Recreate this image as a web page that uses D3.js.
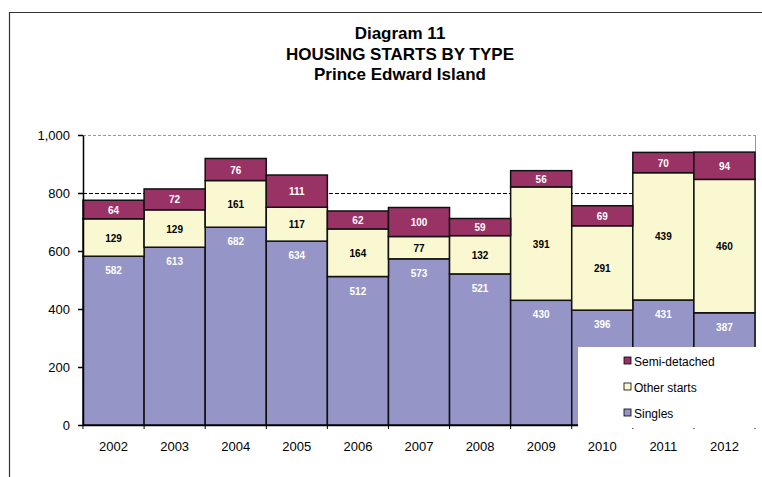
<!DOCTYPE html>
<html>
<head>
<meta charset="utf-8">
<script src="https://cdn.jsdelivr.net/npm/d3@7"></script>
<style>
  body { margin: 0; background: #fff; }
  svg { display: block; font-family: "Liberation Sans", Arial, sans-serif; }
</style>
</head>
<body>
<div id="chart"></div>
<script>
const years = ["2002", "2003", "2004", "2005", "2006", "2007", "2008", "2009", "2010", "2011", "2012"];
const singles = [582, 613, 682, 634, 512, 573, 521, 430, 396, 431, 387];
const otherStarts = [129, 129, 161, 117, 164, 77, 132, 391, 291, 439, 460];
const semiDetached = [64, 72, 76, 111, 62, 100, 59, 56, 69, 70, 94];
const yTicks = [0, 200, 400, 600, 800, 1000];

const width = 762;
const height = 477;
const margin = { top: 135, right: 7, bottom: 52, left: 83 };

const series = [
  { key: "singles", name: "Singles", values: singles, color: "#9595C7", text: "#fff" },
  { key: "other", name: "Other starts", values: otherStarts, color: "#FAF8D0", text: "#000" },
  { key: "semi", name: "Semi-detached", values: semiDetached, color: "#993366", text: "#fff" }
];

// table for d3.stack
const table = years.map((y, i) => {
  const row = { year: y };
  series.forEach(s => row[s.key] = s.values[i]);
  return row;
});
const stacked = d3.stack().keys(series.map(s => s.key))(table);

const svg = d3.select("#chart")
  .append("svg")
  .attr("width", width)
  .attr("height", height);

// outer frame
svg.append("path")
  .attr("d", `M9.5,${height} V12.5 H${width}`)
  .attr("fill", "none")
  .attr("stroke", "#333")
  .attr("stroke-width", 1.2);

// title
const title = ["Diagram 11", "HOUSING STARTS BY TYPE", "Prince Edward Island"];
svg.append("g")
  .selectAll("text")
  .data(title)
  .enter()
  .append("text")
  .attr("x", 400)
  .attr("y", (d, i) => 39 + i * 20.5)
  .attr("text-anchor", "middle")
  .attr("font-size", "17px")
  .attr("font-weight", "bold")
  .text(d => d);

const x = d3.scaleBand()
  .domain(years)
  .range([margin.left, width - margin.right])
  .padding(0);

const y = d3.scaleLinear()
  .domain([0, 1000])
  .range([height - margin.bottom, margin.top]);

// top gridline (grey dashed) and right border
svg.append("line")
  .attr("x1", margin.left).attr("x2", width - margin.right)
  .attr("y1", y(1000) + 0.5).attr("y2", y(1000) + 0.5)
  .attr("stroke", "#999").attr("stroke-dasharray", "3,2");
svg.append("line")
  .attr("x1", width - margin.right + 0.5).attr("x2", width - margin.right + 0.5)
  .attr("y1", y(1000)).attr("y2", y(0))
  .attr("stroke", "#999");

// 800 dashed line
svg.append("line")
  .attr("x1", margin.left).attr("x2", width - margin.right)
  .attr("y1", y(800) + 0.5).attr("y2", y(800) + 0.5)
  .attr("stroke", "#000").attr("stroke-dasharray", "4,2");

// bars
const layers = svg.append("g")
  .selectAll("g")
  .data(stacked)
  .enter()
  .append("g")
  .attr("fill", (d, i) => series[i].color);

layers.selectAll("rect")
  .data(d => d)
  .enter()
  .append("rect")
  .attr("x", d => x(d.data.year))
  .attr("y", d => y(d[1]))
  .attr("width", x.bandwidth())
  .attr("height", d => y(d[0]) - y(d[1]))
  .attr("stroke", "#111")
  .attr("stroke-width", 1.5);

// value labels
stacked.forEach((layer, i) => {
  const s = series[i];
  svg.append("g")
    .selectAll("text")
    .data(layer)
    .enter()
    .append("text")
    .attr("x", d => x(d.data.year) + x.bandwidth() / 2)
    .attr("y", d => s.key === "singles" ? y(d[1]) + 18 : (y(d[0]) + y(d[1])) / 2 + 4)
    .attr("text-anchor", "middle")
    .attr("font-size", "10px")
    .attr("font-weight", "bold")
    .attr("fill", s.text)
    .text(d => d[1] - d[0]);
});

// y axis
const yAxis = svg.append("g")
  .attr("transform", `translate(${margin.left},0)`)
  .call(d3.axisLeft(y).tickValues(yTicks).tickFormat(d3.format(",")).tickSize(5).tickSizeOuter(0).tickPadding(8));
yAxis.selectAll("text").attr("font-size", "13px").attr("fill", "#000").attr("font-family", "Liberation Sans, Arial, sans-serif");
yAxis.selectAll("line, path").attr("stroke", "#000").attr("stroke-width", 1.5);

// x axis
const xAxis = svg.append("g")
  .attr("transform", `translate(0,${y(0)})`)
  .call(d3.axisBottom(x).tickSize(0).tickSizeOuter(0).tickPadding(17));
xAxis.selectAll("text").attr("font-size", "13px").attr("fill", "#000").attr("font-family", "Liberation Sans, Arial, sans-serif");
xAxis.select("path").attr("stroke", "#000").attr("stroke-width", 1.5);
xAxis.selectAll(".boundary")
  .data(years.concat(["end"]))
  .enter()
  .append("line")
  .attr("x1", (d, i) => margin.left + i * x.bandwidth())
  .attr("x2", (d, i) => margin.left + i * x.bandwidth())
  .attr("y1", 0).attr("y2", 4)
  .attr("stroke", "#000");

// legend
const legend = svg.append("g");
legend.append("rect")
  .attr("x", 578).attr("y", 347)
  .attr("width", width - 578).attr("height", 81)
  .attr("fill", "#fff");
const legendItems = series.slice().reverse();
const li = legend.selectAll(".item")
  .data(legendItems)
  .enter()
  .append("g")
  .attr("transform", (d, i) => `translate(624,${362 + i * 26})`);
li.append("rect")
  .attr("x", 0).attr("y", -5)
  .attr("width", 7).attr("height", 7)
  .attr("fill", d => d.color)
  .attr("stroke", "#000")
  .attr("stroke-width", 0.8);
li.append("text")
  .attr("x", 10).attr("y", 4)
  .attr("font-size", "12px")
  .text(d => d.name);
</script>
</body>
</html>
